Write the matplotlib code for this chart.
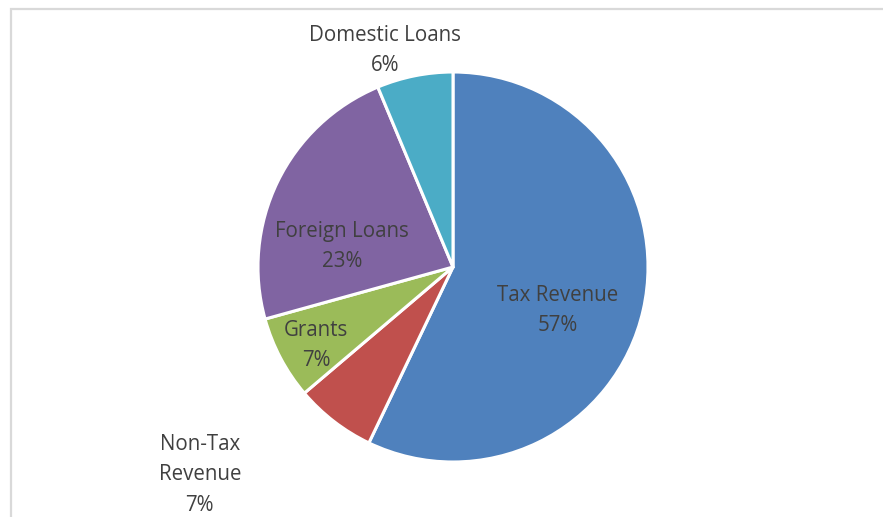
import numpy as np
import matplotlib.pyplot as plt

# revenue sources, in the order the slices run clockwise from 12 o'clock
sources = ['Tax Revenue', 'Non-Tax\nRevenue', 'Grants', 'Foreign Loans', 'Domestic Loans']
shares = [57.1, 6.7, 6.9, 23.0, 6.3]
colors = ['#4F81BD', '#C0504D', '#9BBB59', '#8064A2', '#4BACC6']

# where each label sits: distance from centre (in radii) and nudge in degrees
label_r = [0.58, 1.68, 0.81, 0.58, 1.165]
label_shift = [-10, -13, 2, 15.5, 6]


def main():
    plt.rcParams['font.family'] = ['Open Sans', 'DejaVu Sans']
    fig = plt.figure(figsize=(8.83, 5.17), dpi=100)
    ax = fig.add_axes([0, 0, 1, 1])

    cx, cy, R = 453, 250, 195
    wedges, _ = ax.pie(shares, colors=colors, startangle=90, counterclock=False,
                       center=(cx, cy), radius=R, frame=True,
                       wedgeprops=dict(edgecolor='white', linewidth=2.2))
    ax.set_xlim(0, 883)
    ax.set_ylim(0, 517)
    ax.axis('off')

    # chart area border (only left and top edges are inside the picture)
    ax.plot([11, 11, 890], [-10, 508, 508], color='#d9d9d9', linewidth=1.6,
            solid_joinstyle='miter')

    total = sum(shares)
    for w, name, val, r, sh in zip(wedges, sources, shares, label_r, label_shift):
        mid = np.deg2rad((w.theta1 + w.theta2) / 2 + sh)
        x = cx + r * R * np.cos(mid)
        y = cy + r * R * np.sin(mid)
        ax.text(x, y, '%s\n%.0f%%' % (name, val / total * 100), ha='center', va='center',
                fontsize=14.8, color='#404040', linespacing=1.58)

    fig.savefig('out.png', dpi=100)


if __name__ == '__main__':
    main()
